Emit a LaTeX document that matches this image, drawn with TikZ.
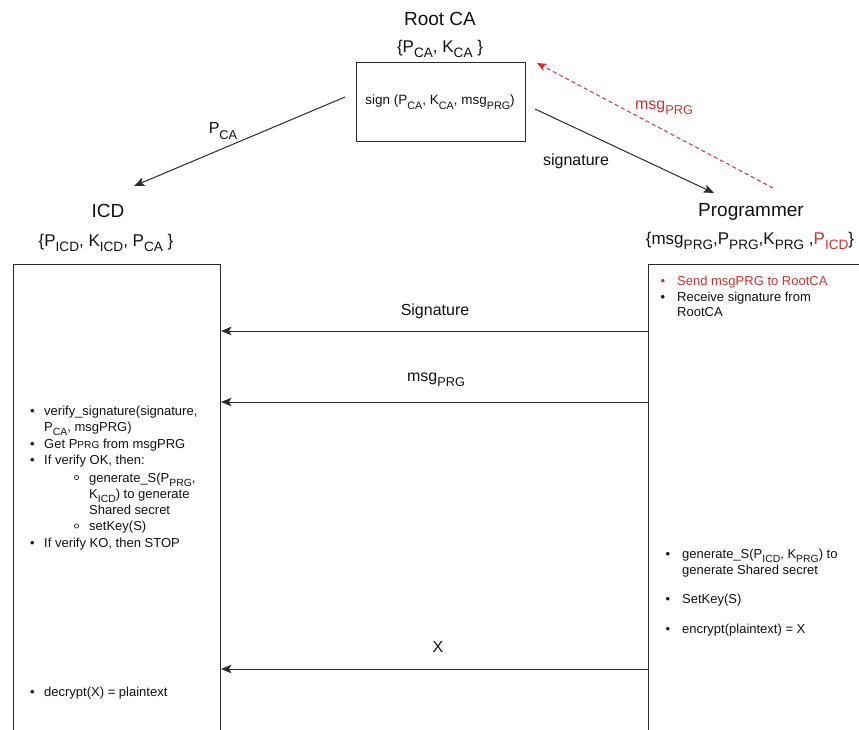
\documentclass[tikz,border=0pt]{standalone}
\usepackage{fontspec}
\setmainfont{Liberation Sans}
\usetikzlibrary{arrows.meta}
\definecolor{ink}{HTML}{111111}
\definecolor{edge}{HTML}{2B2B2B}
\definecolor{alert}{HTML}{CF3131}
% lowered, smaller subscript in the running font
\newcommand\lo[1]{\raisebox{-0.34em}{\scalebox{0.8}{#1}}}
% small capitals-like suffix
\newcommand\sm[1]{\scalebox{0.78}{#1}}
\tikzset{
  title/.style={inner sep=0pt, text=ink, font=\fontsize{19}{22}\selectfont},
  keys/.style={inner sep=0pt, text=ink, font=\fontsize{17}{20}\selectfont},
  lbl/.style={inner sep=0pt, text=ink, font=\fontsize{16}{19}\selectfont},
  party/.style={draw=edge, line width=1pt, anchor=north west, inner sep=0pt},
  lt/.style={anchor=base west, inner sep=0pt, text=ink, font=\fontsize{13}{15}\selectfont},
  bul/.style={anchor=base, inner sep=0pt, text=ink, font=\fontsize{13}{15}\selectfont},
  arr/.style={draw=edge, line width=1pt, -{Stealth[length=10.5pt,width=8.5pt,inset=2.5pt]}},
  redarr/.style={draw=alert, line width=1pt, dash pattern=on 4pt off 3pt,
    -{Stealth[length=9.5pt,width=8pt,inset=2.5pt]}},
}
\begin{document}
\begin{tikzpicture}[x=1pt,y=-1pt]
\useasboundingbox (0,0) rectangle (859,729);

% ---------- Root CA ----------
\node[title] (catitle) at (440,19) {Root CA};
\node[keys] (cakeys) at (440,49) {\{P\lo{CA}, K\lo{CA} \}};
\node[draw=edge, line width=1pt, minimum width=169pt, minimum height=79pt, inner sep=0pt]
  (ca) at (440.5,101.5) {};
\node[inner sep=0pt, text=ink, font=\fontsize{13.5}{16}\selectfont] (sign) at (440,102)
  {sign (P\lo{CA}, K\lo{CA}, msg\lo{PRG})};

% ---------- ICD ----------
\node[title] (icdtitle) at (108,211) {ICD};
\node[keys] (icdkeys) at (106,243) {\{P\lo{ICD}, K\lo{ICD}, P\lo{CA} \}};
\node[party, minimum width=207pt, minimum height=480pt] (icd) at (13,264) {};

% ---------- Programmer ----------
\node[title] (prgtitle) at (751,212) {Programmer};
\node[keys] (prgkeys) at (750,241)
  {\{msg\lo{PRG},P\lo{PRG},K\lo{PRG} ,\textcolor{alert}{P\lo{ICD}}\}};
\node[party, minimum width=225pt, minimum height=480pt] (prg) at (648,264) {};

% ---------- exchanges with the CA ----------
\coordinate (pcaA) at (345,97);
\coordinate (pcaB) at (134,186);
\draw[arr] (pcaA) -- (pcaB);
\node[lbl] (pcalbl) at (223,131) {P\lo{CA}};

\coordinate (sigA) at (535,109);
\coordinate (sigB) at (714,193);
\draw[arr] (sigA) -- (sigB);
\node[lbl] (siglbl) at (576,161) {signature};

\coordinate (reqA) at (773,188);
\coordinate (reqB) at (537,63);
\draw[redarr] (reqA) -- (reqB);
\node[lbl, text=alert] (reqlbl) at (664,108) {msg\lo{PRG}};

% ---------- messages Programmer -> ICD ----------
\draw[arr] (prg.west |- 0,331) -- (icd.east |- 0,331);
\node[lbl] (m1) at (435,311) {Signature};
\draw[arr] (prg.west |- 0,402) -- (icd.east |- 0,402);
\node[lbl] (m2) at (436,380) {msg\lo{PRG}};
\draw[arr] (prg.west |- 0,669) -- (icd.east |- 0,669);
\node[lbl] (m3) at (438,647) {X};

% ---------- ICD steps ----------
\node[bul] (ib1) at (32.5,415) {\textbullet};
\node[lt] (i1) at (44,415) {verify\_signature(signature,};
\node[lt] (i1b) at (44,431) {P\lo{CA}, msgPRG)};
\node[bul] (ib2) at (32.5,448) {\textbullet};
\node[lt] (i2) at (44,448) {Get P\sm{PRG} from msgPRG};
\node[bul] (ib3) at (32.5,464) {\textbullet};
\node[lt] (i3) at (44,464) {If verify OK, then:};
\draw[ink, line width=0.6pt] (76.5,477.5) circle (2.1);
\node[lt] (i4) at (89,482) {generate\_S(P\lo{PRG},};
\node[lt] (i4b) at (89,498) {K\lo{ICD}) to generate};
\node[lt] (i4c) at (89,514.5) {Shared secret};
\draw[ink, line width=0.6pt] (76.5,526) circle (2.1);
\node[lt] (i5) at (89,530.5) {setKey(S)};
\node[bul] (ib6) at (32.5,547) {\textbullet};
\node[lt] (i6) at (44,547) {If verify KO, then STOP};
\node[bul] (ib7) at (32.5,696.5) {\textbullet};
\node[lt] (i7) at (44,696.5) {decrypt(X) = plaintext};

% ---------- Programmer steps ----------
\node[bul, text=alert] (pb1) at (663,285) {\textbullet};
\node[lt, text=alert] (p1) at (677,285) {Send msgPRG to RootCA};
\node[bul] (pb2) at (663,301) {\textbullet};
\node[lt] (p2) at (677,301) {Receive signature from};
\node[lt] (p2b) at (677,316) {RootCA};
\node[bul] (pb3) at (668,558.5) {\textbullet};
\node[lt] (p3) at (682,558.5) {generate\_S(P\lo{ICD}, K\lo{PRG}) to};
\node[lt] (p3b) at (682,574.5) {generate Shared secret};
\node[bul] (pb4) at (668,603.5) {\textbullet};
\node[lt] (p4) at (682,603.5) {SetKey(S)};
\node[bul] (pb5) at (668,633.5) {\textbullet};
\node[lt] (p5) at (682,633.5) {encrypt(plaintext) = X};
\end{tikzpicture}
\end{document}
